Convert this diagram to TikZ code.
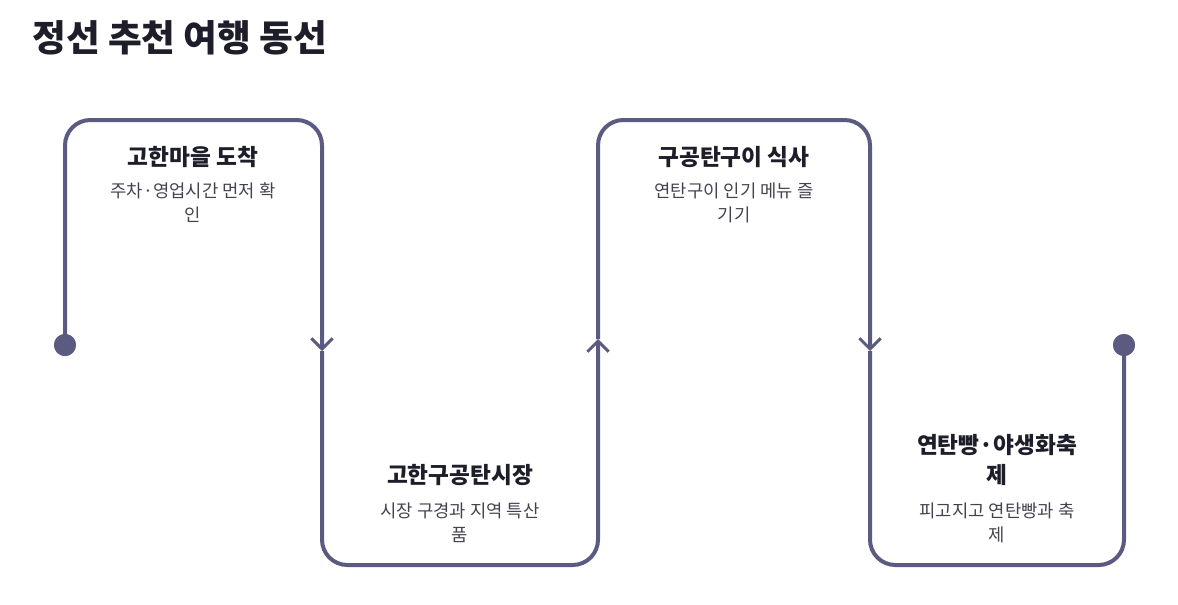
\documentclass[tikz,border=0pt]{standalone}
\usepackage{fontspec}
\setmainfont{Noto Sans CJK KR}
\usetikzlibrary{arrows.meta}
\definecolor{routecol}{HTML}{5B5A80}
\definecolor{headcol}{HTML}{1E1E2A}
\definecolor{notecol}{HTML}{444450}

\begin{document}
\begin{tikzpicture}[x=0.75pt,y=-0.75pt,
	route/.style={draw=routecol,line width=3pt,rounded corners=19pt},
	chevron/.style={-{Straight Barb[length=8pt,width=16pt,line width=2.2pt]}},
	stopdot/.style={circle,fill=routecol,inner sep=0pt,minimum size=16.5pt},
	stophead/.style={text=headcol,align=center,inner sep=0pt,font=\fontsize{17}{22.5}\selectfont\bfseries},
	stopnote/.style={text=notecol,align=center,inner sep=0pt,font=\fontsize{13.3}{18}\selectfont}]
			\useasboundingbox (0,0) rectangle (1178,604);
			% Title
			\node[text=headcol,anchor=west,inner sep=0pt,font=\fontsize{27.5}{32}\selectfont\bfseries] (Title) at (32,38) {정선 추천 여행 동선};
			
			% Route points
			\node[stopdot] (Start) at (65,345) {};
			\node[stopdot] (End) at (1124,345) {};
			\coordinate (TopA) at (65,120);
			\coordinate (TopB) at (322,120);
			\coordinate (ArrowA) at (322,351);
			\coordinate (BotA) at (322,565);
			\coordinate (BotB) at (598,565);
			\coordinate (ArrowB) at (598,339);
			\coordinate (TopC) at (598,120);
			\coordinate (TopD) at (870,120);
			\coordinate (ArrowC) at (870,351);
			\coordinate (BotC) at (870,565);
			\coordinate (BotD) at (1124,565);
			
			\draw[route,chevron] (Start.center) -- (TopA) -- (TopB) -- (ArrowA);
			\draw[route,chevron] (ArrowA) -- (BotA) -- (BotB) -- (ArrowB);
			\draw[route,chevron] (ArrowB) -- (TopC) -- (TopD) -- (ArrowC);
			\draw[route] (ArrowC) -- (BotC) -- (BotD) -- (End.center);
			\node[stopdot] at (Start) {};
			\node[stopdot] at (End) {};
			
			% Stops
			\node[stophead] (Gohan) at (193,157) {고한마을 도착};
			\node[stopnote] (GohanNote) at (193,203) {주차·영업시간 먼저 확\\인};
			\node[stophead] (Market) at (460,475) {고한구공탄시장};
			\node[stopnote] (MarketNote) at (460,523) {시장 구경과 지역 특산\\품};
			\node[stophead] (Grill) at (734,157) {구공탄구이 식사};
			\node[stopnote] (GrillNote) at (734,203) {연탄구이 인기 메뉴 즐\\기기};
			\node[stophead] (Festival) at (997,460) {연탄빵·야생화축\\제};
			\node[stopnote] (FestivalNote) at (997,523) {피고지고 연탄빵과 축\\제};
			
\end{tikzpicture}
\end{document}
